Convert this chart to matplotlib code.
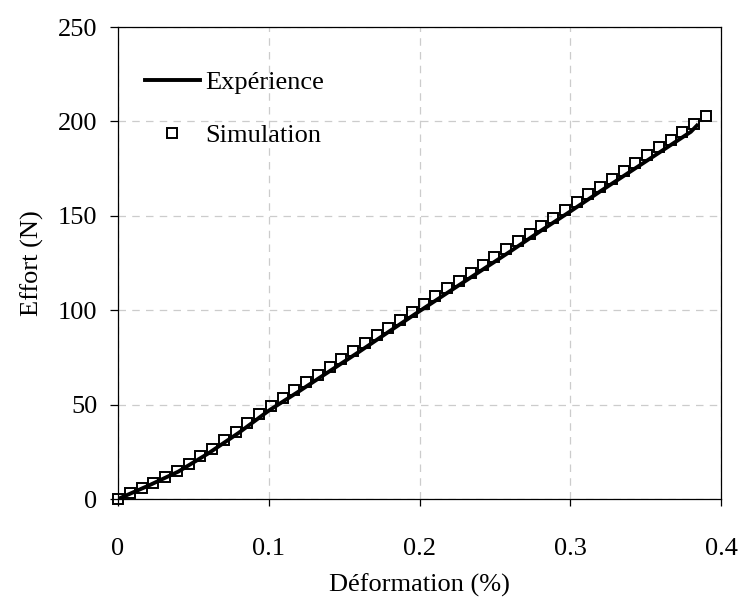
import numpy as np
from matplotlib import pyplot as plt

# Donnees
def_exp = [0, 0.02, 0.04, 0.06, 0.08, 0.10, 0.12, 0.14, 0.16, 0.18, 0.20,
           0.22, 0.24, 0.26, 0.28, 0.30, 0.32, 0.34, 0.36, 0.38, 0.384]
eff_exp = [0, 7.0, 14.5, 24.2, 35.0, 46.8, 57.0, 67.5, 78.0, 88.8, 99.5,
           110.0, 120.5, 131.0, 141.8, 152.3, 163.0, 173.5, 184.0, 194.5, 197.8]

def_sim = [0, 0.0078, 0.0156, 0.0234, 0.0312, 0.039, 0.0468, 0.0546, 0.0624, 0.0702,
           0.078, 0.0858, 0.0936, 0.1014, 0.1092, 0.117, 0.1248, 0.1326, 0.1404, 0.1482,
           0.156, 0.1638, 0.1716, 0.1794, 0.1872, 0.195, 0.2028, 0.2106, 0.2184, 0.2262,
           0.234, 0.2418, 0.2496, 0.2574, 0.2652, 0.273, 0.2808, 0.2886, 0.2964, 0.3042,
           0.312, 0.3198, 0.3276, 0.3354, 0.3432, 0.351, 0.3588, 0.3666, 0.3744, 0.3822,
           0.39]
eff_sim = [0, 3.0, 5.6, 8.5, 11.7, 15.0, 18.7, 22.6, 26.7, 31.0,
           35.5, 40.2, 44.8, 49.3, 53.5, 57.6, 61.8, 65.9, 70.1, 74.2,
           78.4, 82.5, 86.7, 90.8, 95.0, 99.1, 103.3, 107.4, 111.6, 115.7,
           119.9, 124.0, 128.2, 132.3, 136.5, 140.6, 144.8, 148.9, 153.1, 157.2,
           161.4, 165.5, 169.7, 173.8, 178.0, 182.1, 186.3, 190.4, 194.6, 198.7,
           203.0]

plt.rcParams['font.family'] = ['Liberation Serif', 'DejaVu Serif']
plt.rcParams['font.size'] = 19

fig = plt.figure(figsize=(7.46, 5.99), dpi=100)
ax = fig.add_axes([118/746, 1-499/599, (721-118)/746, (499-27)/599])

ax.plot(def_exp, eff_exp, color='black', lw=2.8, label='Expérience', zorder=3)
ax.plot(def_sim, eff_sim, ls='none', marker='s', ms=7.5, mfc='none', mec='black',
        mew=1.4, label='Simulation', zorder=4, clip_on=False)

ax.set_xlim(0, 0.4)
ax.set_ylim(0, 250)
ax.set_xticks([0, 0.1, 0.2, 0.3, 0.4])
ax.set_xticklabels(['0', '0.1', '0.2', '0.3', '0.4'])
ax.set_yticks([0, 50, 100, 150, 200, 250])

ax.grid(True, color='#cccccc', ls=(0, (6, 5)), lw=0.9)
ax.set_axisbelow(True)
ax.tick_params(axis='y', direction='out', length=6, width=0.9, pad=9)
ax.tick_params(axis='x', direction='out', length=5, width=0.9, pad=23)
for s in ax.spines.values():
    s.set_linewidth(0.9)

ax.set_xlabel('Déformation (%)', labelpad=10)
ax.set_ylabel('Effort (N)', labelpad=10)

ax.legend(loc='upper left', bbox_to_anchor=(0.005, 0.958), frameon=False,
          handlelength=2.1, handletextpad=0.2, labelspacing=1.13)

plt.savefig('out.png', dpi=100)
